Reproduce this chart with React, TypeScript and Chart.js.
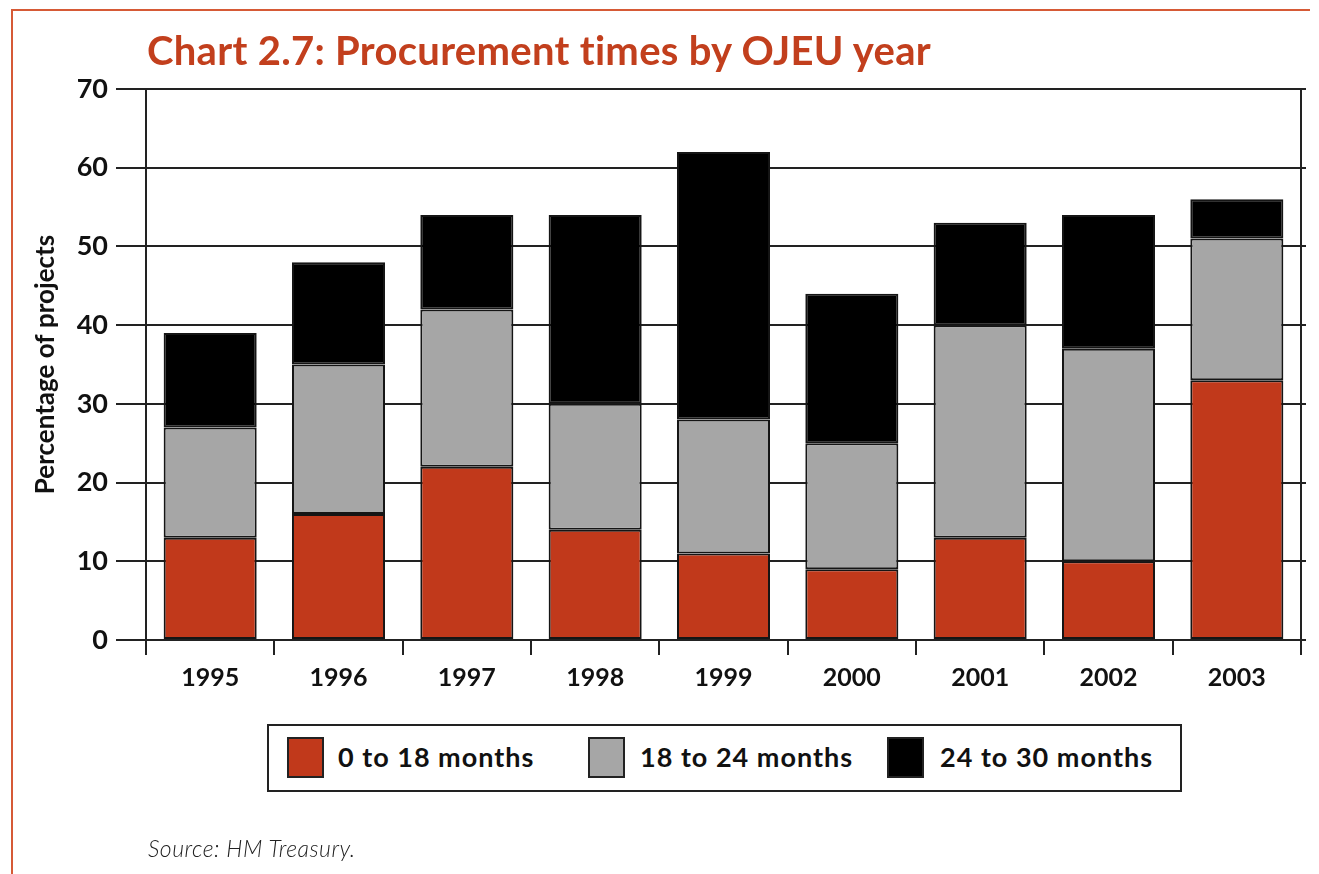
import React, { useEffect, useRef } from "react";
import { Chart, registerables } from "chart.js";

Chart.register(...registerables);

const years = ["1995", "1996", "1997", "1998", "1999", "2000", "2001", "2002", "2003"];
const upTo18 = [13, 16, 22, 14, 11, 9, 13, 10, 33];
const from18to24 = [14, 19, 20, 16, 17, 16, 27, 27, 18];
const from24to30 = [12, 13, 12, 24, 34, 19, 13, 17, 5];
const seriesLabels = ["0 to 18 months", "18 to 24 months", "24 to 30 months"];
const seriesColors = ["#C1391B", "#A6A6A6", "#000000"];
const yMin = 0;
const yMax = 70;
const yStep = 10;
const titleText = "Chart 2.7: Procurement times by OJEU year";
const yTitle = "Percentage of projects";
const sourceText = "Source: HM Treasury.";

const FONT = "Lato, 'Open Sans', sans-serif";

export default function App() {
  const canvasRef = useRef<HTMLCanvasElement | null>(null);

  useEffect(() => {
    const canvas = canvasRef.current;
    if (!canvas) return;
    const seriesData = [upTo18, from18to24, from24to30];
    const chart = new Chart(canvas, {
      type: "bar",
      data: {
        labels: years,
        datasets: seriesData.map((d, i) => ({
          label: seriesLabels[i],
          data: d,
          backgroundColor: seriesColors[i],
          borderColor: "#151515",
          borderWidth: 2,
          borderSkipped: false,
          barPercentage: 0.725,
          categoryPercentage: 1,
        })),
      },
      options: {
        responsive: false,
        animation: false,
        devicePixelRatio: 1,
        layout: { padding: { top: 89, left: 0, right: 0, bottom: 0 } },
        plugins: {
          legend: { display: false },
          title: { display: false },
          tooltip: { enabled: false },
        },
        scales: {
          x: {
            stacked: true,
            offset: true,
            grid: {
              offset: true,
              drawOnChartArea: false,
              drawTicks: true,
              tickLength: 15,
              color: "#222",
              lineWidth: 2,
            },
            border: { display: true, color: "#222", width: 2 },
            ticks: {
              font: { family: FONT, weight: "bold", size: 25 },
              color: "#111",
              padding: 8,
            },
            afterFit: (s: any) => {
              s.height = 234;
            },
          },
          y: {
            stacked: true,
            min: yMin,
            max: yMax,
            ticks: {
              stepSize: yStep,
              font: { family: FONT, weight: "bold", size: 27 },
              color: "#111",
              padding: 8,
            },
            grid: { color: "#222", lineWidth: 2, tickLength: 30 },
            border: { display: true, color: "#222", width: 2 },
            title: {
              display: true,
              text: yTitle,
              font: { family: FONT, weight: "bold", size: 26 },
              color: "#111",
              padding: { top: 30, bottom: 0 },
            },
            afterFit: (s: any) => {
              s.width = 146;
            },
          },
          y2: {
            position: "right",
            min: yMin,
            max: yMax,
            ticks: { stepSize: yStep, display: false },
            grid: {
              drawOnChartArea: false,
              color: "#222",
              lineWidth: 2,
              tickLength: 5,
            },
            border: { display: true, color: "#222", width: 2 },
            afterFit: (s: any) => {
              s.width = 18;
            },
          },
        },
      } as any,
    });
    return () => chart.destroy();
  }, []);

  const legendItems = [
    { sq: 20, tx: 71 },
    { sq: 321, tx: 373 },
    { sq: 620, tx: 673 },
  ];

  return (
    <div style={{ position: "absolute", left: 0, top: 0, width: 1319, height: 874, background: "#fff", overflow: "hidden" }}>
      <div style={{ position: "absolute", left: 12, top: 9, width: 1298, height: 2, background: "#D65A36" }} />
      <div style={{ position: "absolute", left: 11, top: 9, width: 2, height: 865, background: "#D65A36" }} />
      <canvas ref={canvasRef} width={1319} height={874} style={{ position: "absolute", left: 0, top: 0, width: 1319, height: 874 }} />
      <div
        style={{
          position: "absolute",
          left: 147,
          top: 27,
          fontFamily: FONT,
          fontWeight: 700,
          fontSize: 40,
          lineHeight: "46px",
          letterSpacing: "0.3px",
          color: "#C23F1D",
          whiteSpace: "nowrap",
        }}
      >
        {titleText}
      </div>
      <div
        style={{
          position: "absolute",
          left: 267,
          top: 724,
          width: 915,
          height: 68,
          boxSizing: "border-box",
          border: "2px solid #222",
          background: "#fff",
        }}
      >
        {seriesLabels.map((lab, i) => (
          <React.Fragment key={lab}>
            <div
              style={{
                position: "absolute",
                left: legendItems[i].sq - 2,
                top: 11,
                width: 37,
                height: 41,
                boxSizing: "border-box",
                border: "2px solid #222",
                background: seriesColors[i],
              }}
            />
            <div
              style={{
                position: "absolute",
                left: legendItems[i].tx - 2,
                top: 13,
                fontFamily: FONT,
                fontWeight: 700,
                fontSize: 27,
                lineHeight: "36px",
                letterSpacing: "1px",
                color: "#111",
                whiteSpace: "nowrap",
              }}
            >
              {lab}
            </div>
          </React.Fragment>
        ))}
      </div>
      <div
        style={{
          position: "absolute",
          left: 148,
          top: 834,
          fontFamily: FONT,
          fontStyle: "italic",
          fontWeight: 300,
          fontSize: 23,
          lineHeight: "28px",
          letterSpacing: "0.5px",
          color: "#222",
          whiteSpace: "nowrap",
        }}
      >
        {sourceText}
      </div>
    </div>
  );
}
